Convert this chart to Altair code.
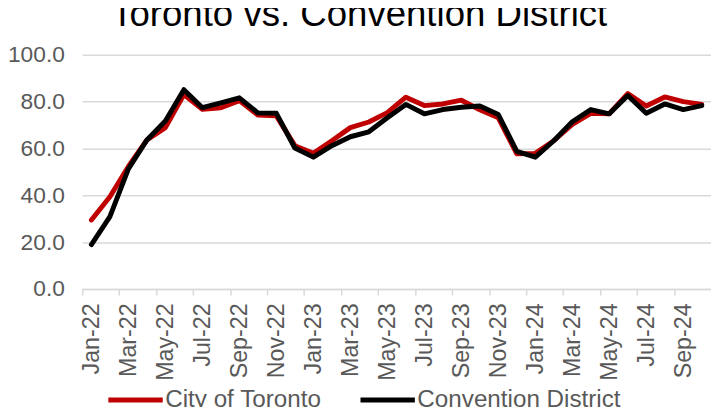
import altair as alt
import pandas as pd

months = ["Jan-22", "Feb-22", "Mar-22", "Apr-22", "May-22", "Jun-22", "Jul-22", "Aug-22", "Sep-22", "Oct-22", "Nov-22", "Dec-22",
          "Jan-23", "Feb-23", "Mar-23", "Apr-23", "May-23", "Jun-23", "Jul-23", "Aug-23", "Sep-23", "Oct-23", "Nov-23", "Dec-23",
          "Jan-24", "Feb-24", "Mar-24", "Apr-24", "May-24", "Jun-24", "Jul-24", "Aug-24", "Sep-24", "Oct-24"]
toronto = [29.5, 39.4, 52.3, 63.6, 68.9, 83.0, 76.7, 77.4, 80.4, 74.3, 73.9, 61.2,
           57.9, 63.3, 68.9, 71.3, 75.3, 81.9, 78.3, 79.0, 80.6, 76.5, 73.1, 57.7,
           57.9, 63.3, 70.3, 75.0, 74.8, 83.4, 78.1, 82.0, 80.0, 78.8]
convention = [19.0, 30.9, 51.3, 63.6, 71.7, 85.1, 77.4, 79.5, 81.6, 75.2, 75.0, 60.2,
              56.3, 61.2, 65.0, 67.1, 73.1, 78.8, 74.8, 76.6, 77.6, 78.1, 74.5, 58.8,
              56.3, 63.3, 71.4, 76.6, 74.8, 82.6, 75.0, 79.0, 76.6, 78.3]
series_names = ["City of Toronto", "Convention District"]
series_colors = ["#C00000", "#000000"]
tick_months = months[::2]

rows = []
for i, m in enumerate(months):
    rows.append({"month": m, "series": series_names[0], "value": toronto[i], "order": 0})
    rows.append({"month": m, "series": series_names[1], "value": convention[i], "order": 1})
df = pd.DataFrame(rows)

W = 636
H = 237
half_band = W / len(months) / 2
FONT = "Liberation Sans"

chart = alt.Chart(df).mark_line(strokeWidth=5, strokeCap="round", strokeJoin="round").encode(
    x=alt.X("month:O", sort=months, title=None,
            scale=alt.Scale(type="point", padding=0.5),
            axis=alt.Axis(values=tick_months, labelAngle=-90, tickOffset=-half_band, labelOffset=half_band,
                          labelFontSize=23.5, labelColor="#595959", labelFont=FONT, labelPadding=8,
                          tickSize=6, tickColor="#d9d9d9", tickWidth=1.5,
                          domainColor="#d9d9d9", domainWidth=1.5, grid=False, labelOverlap=False)),
    y=alt.Y("value:Q", title=None,
            scale=alt.Scale(domain=[0, 100]),
            axis=alt.Axis(values=[0, 20, 40, 60, 80, 100], format=".1f", ticks=False, domain=False,
                          labelFontSize=23, labelColor="#595959", labelFont=FONT, labelPadding=18,
                          gridColor="#d9d9d9", gridWidth=1.5)),
    color=alt.Color("series:N", sort=series_names,
                    scale=alt.Scale(domain=series_names, range=series_colors),
                    legend=alt.Legend(title=None, orient="none", direction="horizontal",
                                      legendX=24, legendY=319, padding=0,
                                      symbolType="stroke", symbolSize=3025, symbolStrokeWidth=5,
                                      labelFontSize=24.5, labelColor="#595959", labelFont=FONT,
                                      labelOffset=0, columnPadding=29, labelLimit=400)),
    order=alt.Order("order:Q"),
).properties(
    width=W, height=H,
    title=alt.TitleParams("Toronto vs. Convention District", fontSize=37, font=FONT, fontWeight="normal",
                          color="#000000", anchor="middle", frame="bounds", offset=10),
    autosize=alt.AutoSizeParams(type="none"),
    padding={"left": 75, "top": 45, "right": 0, "bottom": 117},
).configure_view(stroke=None)

chart.save("out.html", embed_options={"renderer": "svg", "actions": False})
